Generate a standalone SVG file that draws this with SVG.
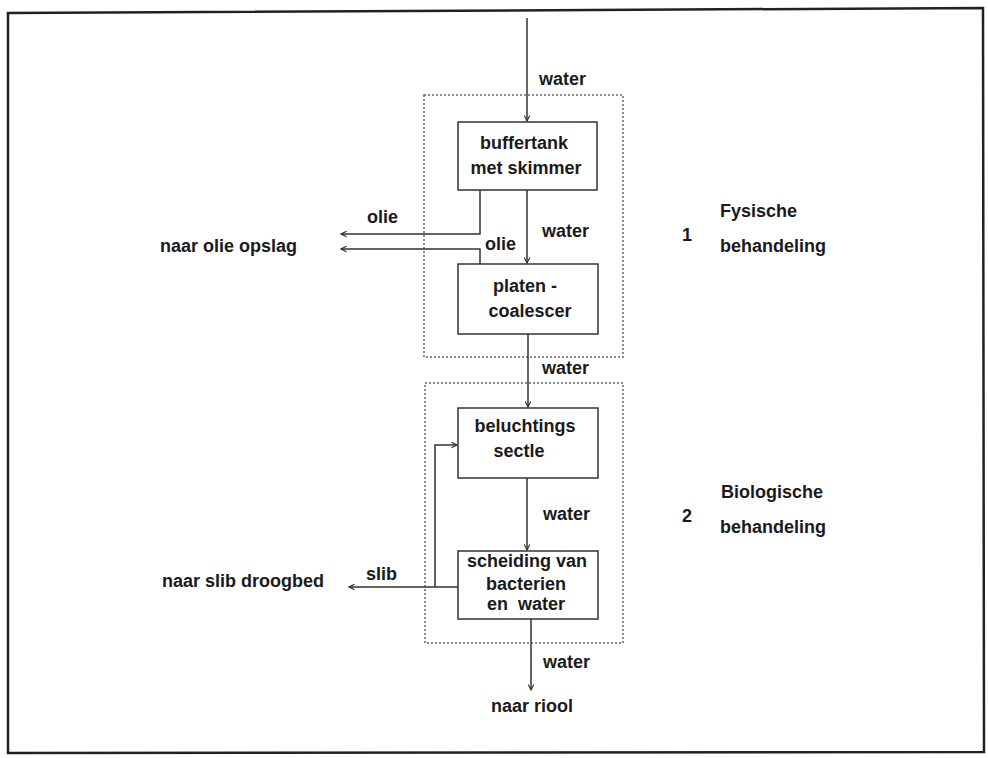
<svg xmlns="http://www.w3.org/2000/svg" width="988" height="758" viewBox="0 0 988 758">
<style>
text{font-family:"Liberation Sans",Arial,sans-serif;font-size:18px;font-weight:bold;fill:#1a1a1a}
.c{text-anchor:middle}
.box{fill:#fff;stroke:#333;stroke-width:1.5}
.grp{fill:none;stroke:#666;stroke-width:1.5;stroke-dasharray:2 2}
.ln{fill:none;stroke:#333;stroke-width:1.5}
</style>
<defs>
<marker id="ah" viewBox="0 0 10 10" refX="9" refY="5" markerWidth="7" markerHeight="7" orient="auto" markerUnits="userSpaceOnUse">
<path d="M1,1 L9,5 L1,9" fill="none" stroke="#333" stroke-width="1.6"/>
</marker>
</defs>
<rect width="988" height="758" fill="#fff"/>
<polygon points="8,13 983,8 984,752 8,753" fill="none" stroke="#222" stroke-width="2.5"/>
<g id="group1"><rect class="grp" x="424" y="95" width="199" height="262"/></g>
<g id="group2"><rect class="grp" x="425" y="383" width="198" height="260"/></g>
<g id="connectors">
<path class="ln" d="M527,18 V121" marker-end="url(#ah)"/>
<path class="ln" d="M527,190 V263" marker-end="url(#ah)"/>
<path class="ln" d="M480,190 V234 H341" marker-end="url(#ah)"/>
<path class="ln" d="M480,264 V249 H341" marker-end="url(#ah)"/>
<path class="ln" d="M528,334 V407" marker-end="url(#ah)"/>
<path class="ln" d="M527,478 V550" marker-end="url(#ah)"/>
<path class="ln" d="M458,587 H349" marker-end="url(#ah)"/>
<path class="ln" d="M435,587 V445 H457" marker-end="url(#ah)"/>
<path class="ln" d="M531,619 V690" marker-end="url(#ah)"/>
</g>
<g id="labels">
<text x="539" y="85">water</text>
<text x="542" y="237">water</text>
<text x="367" y="223">olie</text>
<text x="485" y="250">olie</text>
<text x="542" y="374">water</text>
<text x="543" y="520">water</text>
<text x="366" y="580">slib</text>
<text x="543" y="668">water</text>
<text class="c" x="532" y="712">naar riool</text>
<text x="160" y="252">naar olie opslag</text>
<text x="162" y="587">naar slib droogbed</text>
</g>
<g id="n-buffertank"><rect class="box" x="458" y="122" width="139" height="68"/>
<text class="c" x="524" y="149">buffertank</text><text class="c" x="526" y="174">met skimmer</text></g>
<g id="n-platen"><rect class="box" x="458" y="264" width="140" height="70"/>
<text class="c" x="525" y="292">platen -</text><text class="c" x="530" y="317">coalescer</text></g>
<g id="n-beluchtings"><rect class="box" x="458" y="408" width="140" height="70"/>
<text class="c" x="525" y="432">beluchtings</text><text class="c" x="519" y="457">sectle</text></g>
<g id="n-scheiding"><rect class="box" x="458" y="551" width="140" height="68"/>
<text class="c" x="527" y="567">scheiding van</text><text class="c" x="526" y="590">bacterien</text><text class="c" x="526" y="610" xml:space="preserve">en  water</text></g>
<g id="phase1"><text x="682" y="241">1</text><text x="720" y="217">Fysische</text><text x="720" y="252">behandeling</text></g>
<g id="phase2"><text x="682" y="522">2</text><text x="721" y="498">Biologische</text><text x="720" y="533">behandeling</text></g>
</svg>
